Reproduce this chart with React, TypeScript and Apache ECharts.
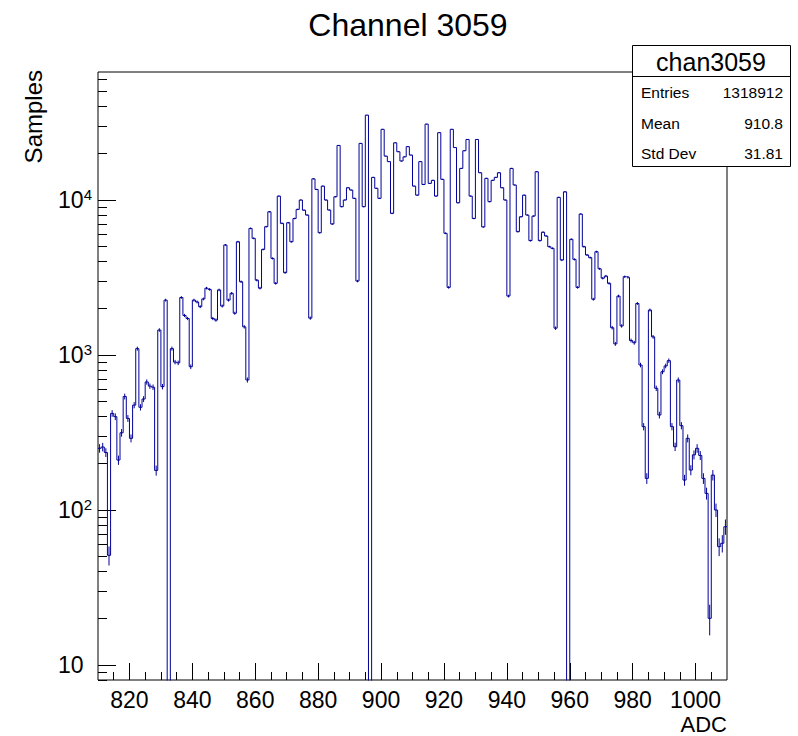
import React, { useEffect, useRef } from 'react';
import * as echarts from 'echarts';

// ---------- data ----------
const binStart = 810;
const binEnd = 1010;
const yMin = 8;
const yMax = 67000;

// counts per 1-ADC bin, from 810 to 1009
const counts = [
  250, 255, 235, 51, 420, 400, 210, 315, 540, 390,
  290, 475, 1100, 460, 520, 670, 630, 620, 180, 1450,
  625, 2260, 0, 1100, 900, 890, 2350, 1800, 1720, 840,
  2260, 2200, 2050, 2300, 2700, 2650, 1720, 1680, 2630, 2070,
  5130, 2260, 2500, 1860, 5380, 2970, 1520, 690, 6560, 5660,
  3040, 2700, 4800, 6730, 8400, 4200, 2900, 10600, 7070, 3400,
  7140, 5380, 7600, 8700, 10000, 8600, 8000, 1730, 13700, 11700,
  6150, 12300, 10000, 8620, 7000, 10500, 22500, 9060, 10000, 12000,
  11600, 10250, 3000, 23200, 9060, 35300, 0, 14000, 11900, 10250,
  28600, 19200, 17700, 8200, 23400, 20500, 17850, 19000, 22100, 19500,
  12300, 10750, 17700, 12600, 30900, 12800, 13400, 10600, 27200, 13600,
  6100, 2730, 28600, 21800, 9600, 16000, 20800, 24600, 10600, 7600,
  24600, 15000, 6700, 13800, 9760, 13400, 14000, 15000, 12000, 10000,
  2400, 16000, 12500, 6250, 7800, 10750, 8000, 5470, 7880, 15230,
  5470, 6200, 5860, 5000, 4880, 1490, 10400, 4100, 11300, 0,
  5580, 4140, 2730, 8120, 5000, 4420, 4250, 2290, 4640, 3600,
  3130, 3230, 2900, 1500, 1180, 2400, 1540, 3200, 3170, 1240,
  1200, 2150, 862, 345, 160, 1950, 1310, 610, 410, 780,
  850, 920, 345, 256, 690, 350, 156, 290, 181, 227,
  250, 225, 160, 128, 20, 168, 100, 58, 61, 78,
];

const xTickLabels = [820, 840, 860, 880, 900, 920, 940, 960, 980, 1000];
const xMinorTicks = [
  815, 825, 830, 835, 845, 850, 855, 865, 870, 875, 885, 890, 895,
  905, 910, 915, 925, 930, 935, 945, 950, 955, 965, 970, 975, 985,
  990, 995, 1005,
];
const yMajorTicks = [10, 100, 1000, 10000];
const yMinorTicks = [
  8, 9, 20, 30, 40, 50, 60, 70, 80, 90, 200, 300, 400, 500, 600, 700,
  800, 900, 2000, 3000, 4000, 5000, 6000, 7000, 8000, 9000, 20000,
  30000, 40000, 50000, 60000,
];

const titleText = 'Channel 3059';
const statsTitle = 'chan3059';
const statsLabels = ['Entries', 'Mean', 'Std Dev'];
const statsValues = ['1318912', '910.8', '31.81'];
const xAxisTitle = 'ADC';
const yAxisTitle = 'Samples';

// ---------- style ----------
const FONT = '"Liberation Sans", Arial, Helvetica, sans-serif';
const HIST_COLOR = '#000099';

export default function App() {
  const ref = useRef<HTMLDivElement>(null);

  useEffect(() => {
    if (!ref.current) return;
    const chart = echarts.init(ref.current, undefined, { renderer: 'svg' });

    const floorVal = 1; // below axis min: zero bins are drawn down to the frame bottom (clipped)
    const stepData: number[][] = counts.map((c, i) => [binStart + i, c > 0 ? c : floorVal]);
    stepData.push([binEnd, counts[counts.length - 1] > 0 ? counts[counts.length - 1] : floorVal]);

    const errData: number[][] = [];
    counts.forEach((c, i) => {
      if (c > 0) errData.push([binStart + i + 0.5, c]);
    });

    const gridPos = { left: 98, top: 72, width: 629, height: 608 };

    const yLabelFormatter = (v: number) => {
      const p = Math.round(Math.log10(v));
      if (p === 1) return '{base|10}{ghost|1}';
      return '{base|10}{sup|' + p + '}';
    };

    const statsY = [92, 123, 153];

    const option: any = {
      animation: false,
      backgroundColor: '#ffffff',
      grid: {
        ...gridPos,
        show: true,
        borderColor: '#000',
        borderWidth: 1,
        backgroundColor: 'transparent',
        containLabel: false,
      },
      xAxis: [
        {
          type: 'value',
          min: binStart,
          max: binEnd,
          position: 'bottom',
          axisLine: { show: false },
          splitLine: { show: false },
          axisTick: {
            show: true,
            inside: true,
            length: 17,
            customValues: xTickLabels,
            lineStyle: { color: '#000', width: 1 },
          },
          axisLabel: {
            show: true,
            customValues: xTickLabels,
            margin: 8,
            color: '#000',
            fontSize: 23,
            lineHeight: 23,
            fontFamily: FONT,
            formatter: (v: number) => String(v),
          },
        },
        {
          type: 'value',
          min: binStart,
          max: binEnd,
          position: 'bottom',
          axisLine: { show: false },
          splitLine: { show: false },
          axisLabel: { show: false },
          axisTick: {
            show: true,
            inside: true,
            length: 8,
            customValues: xMinorTicks,
            lineStyle: { color: '#000', width: 1 },
          },
        },
      ],
      yAxis: [
        {
          type: 'log',
          logBase: 10,
          min: yMin,
          max: yMax,
          position: 'left',
          axisLine: { show: false },
          splitLine: { show: false },
          minorTick: { show: false },
          axisTick: {
            show: true,
            inside: true,
            length: 18,
            customValues: yMajorTicks,
            lineStyle: { color: '#000', width: 1 },
          },
          axisLabel: {
            show: true,
            customValues: yMajorTicks,
            margin: 6,
            formatter: yLabelFormatter,
            rich: {
              base: { fontSize: 23, fontFamily: FONT, color: '#000', lineHeight: 26 },
              sup: { fontSize: 15, fontFamily: FONT, color: '#000', verticalAlign: 'top', lineHeight: 14 },
              ghost: { fontSize: 15, fontFamily: FONT, color: 'rgba(0,0,0,0)', verticalAlign: 'top', lineHeight: 14 },
            },
          },
        },
        {
          type: 'log',
          logBase: 10,
          min: yMin,
          max: yMax,
          position: 'left',
          offset: 0,
          axisLine: { show: false },
          splitLine: { show: false },
          axisLabel: { show: false },
          axisTick: {
            show: true,
            inside: true,
            length: 9,
            customValues: yMinorTicks,
            lineStyle: { color: '#000', width: 1 },
          },
        },
      ],
      series: [
        {
          type: 'line',
          xAxisIndex: 0,
          yAxisIndex: 0,
          data: stepData,
          step: 'end',
          symbol: 'none',
          clip: true,
          lineStyle: { color: HIST_COLOR, width: 1 },
          z: 3,
        },
        {
          type: 'custom',
          xAxisIndex: 0,
          yAxisIndex: 0,
          data: errData,
          clip: true,
          z: 3,
          renderItem: (params: any, api: any) => {
            const x = api.value(0);
            const v = api.value(1);
            const e = Math.sqrt(v);
            const p1 = api.coord([x, v + e]);
            const p2 = api.coord([x, Math.max(v - e, yMin * 0.5)]);
            return {
              type: 'line',
              shape: { x1: p1[0], y1: p1[1], x2: p2[0], y2: p2[1] },
              style: { stroke: HIST_COLOR, lineWidth: 1 },
            };
          },
        },
      ],
      graphic: [
        {
          type: 'text',
          x: 408,
          y: 25,
          style: {
            text: titleText,
            fontSize: 32,
            fontFamily: FONT,
            fill: '#000',
            align: 'center',
            verticalAlign: 'middle',
          },
        },
        {
          type: 'text',
          x: 33,
          y: 70,
          rotation: Math.PI / 2,
          style: {
            text: yAxisTitle,
            fontSize: 24,
            fontFamily: FONT,
            fill: '#000',
            align: 'right',
            verticalAlign: 'middle',
          },
        },
        {
          type: 'text',
          x: 727,
          y: 724,
          style: {
            text: xAxisTitle,
            fontSize: 22,
            lineHeight: 22,
            fontFamily: FONT,
            fill: '#000',
            align: 'right',
            verticalAlign: 'middle',
          },
        },
        {
          type: 'group',
          z: 100,
          children: [
            {
              type: 'rect',
              shape: { x: 632.5, y: 45.5, width: 158, height: 121 },
              style: { fill: '#fff', stroke: '#000', lineWidth: 1 },
            },
            {
              type: 'line',
              shape: { x1: 632.5, y1: 76.5, x2: 790.5, y2: 76.5 },
              style: { stroke: '#000', lineWidth: 1 },
            },
            {
              type: 'text',
              x: 711,
              y: 62,
              style: {
                text: statsTitle,
                fontSize: 25,
                fontFamily: FONT,
                fill: '#000',
                align: 'center',
                verticalAlign: 'middle',
              },
            },
            ...statsLabels.map((t, i) => ({
              type: 'text',
              x: 641,
              y: statsY[i],
              style: {
                text: t,
                fontSize: 15.5,
                fontFamily: FONT,
                fill: '#000',
                align: 'left',
                verticalAlign: 'middle',
              },
            })),
            ...statsValues.map((t, i) => ({
              type: 'text',
              x: 783,
              y: statsY[i],
              style: {
                text: t,
                fontSize: 15.5,
                fontFamily: FONT,
                fill: '#000',
                align: 'right',
                verticalAlign: 'middle',
              },
            })),
          ],
        },
      ],
    };

    chart.setOption(option);
    return () => {
      chart.dispose();
    };
  }, []);

  return (
    <div
      ref={ref}
      style={{ position: 'absolute', left: 0, top: 0, width: 798, height: 736, background: '#fff' }}
    />
  );
}
